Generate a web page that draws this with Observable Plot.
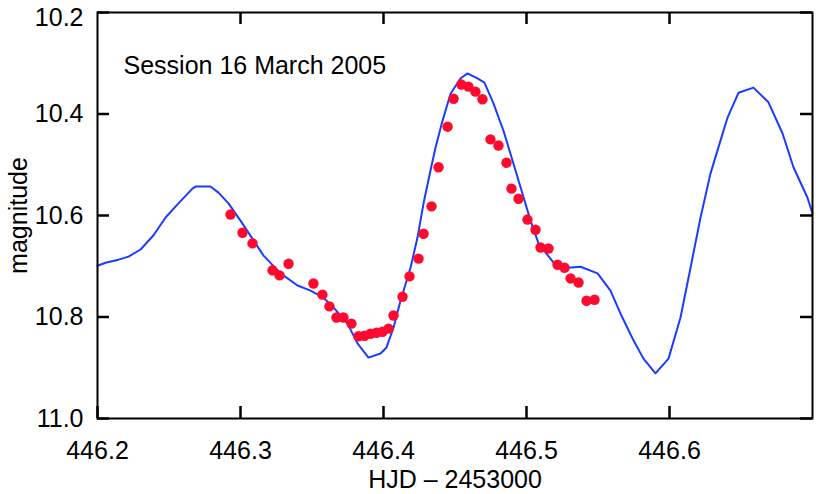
<!DOCTYPE html>
<html>
<head>
<meta charset="utf-8">
<script src="https://cdn.jsdelivr.net/npm/d3@7"></script>
<script src="https://cdn.jsdelivr.net/npm/@observablehq/plot@0.6"></script>
<style>
  html, body { margin: 0; padding: 0; background: #fff; }
</style>
</head>
<body>
<div id="chart"></div>
<script>
// Model light curve (blue line)
const modelX = [446.2000, 446.2056, 446.2147, 446.2217, 446.2301, 446.2392, 446.2476, 446.2566, 446.2664, 446.2685,
  446.2790, 446.2846, 446.2916, 446.3014, 446.3161, 446.3280, 446.3399, 446.3490, 446.3580, 446.3650,
  446.3748, 446.3818, 446.3895, 446.3979, 446.4021, 446.4070, 446.4119, 446.4189, 446.4238, 446.4280,
  446.4329, 446.4364, 446.4413, 446.4469, 446.4538, 446.4587, 446.4657, 446.4706, 446.4769, 446.4839,
  446.4909, 446.4972, 446.5028, 446.5084, 446.5189, 446.5287, 446.5378, 446.5497, 446.5587, 446.5657,
  446.5748, 446.5818, 446.5902, 446.5993, 446.6077, 446.6147, 446.6217, 446.6287, 446.6357, 446.6406,
  446.6483, 446.6587, 446.6692, 446.6790, 446.6867, 446.6965, 446.7000];
const modelY = [10.699, 10.693, 10.687, 10.681, 10.667, 10.639, 10.604, 10.576, 10.547, 10.543,
  10.543, 10.555, 10.576, 10.616, 10.679, 10.714, 10.738, 10.748, 10.762, 10.781,
  10.813, 10.852, 10.880, 10.872, 10.860, 10.821, 10.768, 10.703, 10.643, 10.576,
  10.511, 10.466, 10.413, 10.360, 10.330, 10.320, 10.330, 10.338, 10.379, 10.433,
  10.498, 10.557, 10.610, 10.655, 10.693, 10.703, 10.701, 10.714, 10.748, 10.793,
  10.846, 10.882, 10.911, 10.882, 10.801, 10.703, 10.604, 10.517, 10.452, 10.407,
  10.358, 10.348, 10.377, 10.438, 10.505, 10.565, 10.596];

// Observed magnitudes (red dots)
const obsX = [446.2930, 446.3014, 446.3084, 446.3224, 446.3273, 446.3336, 446.3510, 446.3573, 446.3622, 446.3671,
  446.3720, 446.3776, 446.3825, 446.3867, 446.3909, 446.3951, 446.3993, 446.4035, 446.4070, 446.4133,
  446.4182, 446.4245, 446.4280, 446.4336, 446.4385, 446.4448, 446.4490, 446.4545, 446.4594, 446.4643,
  446.4692, 446.4748, 446.4804, 446.4860, 446.4895, 446.4944, 446.5007, 446.5063, 446.5098, 446.5154,
  446.5217, 446.5266, 446.5308, 446.5364, 446.5420, 446.5476];
const obsY = [10.598, 10.634, 10.655, 10.708, 10.718, 10.695, 10.734, 10.756, 10.779, 10.801,
  10.801, 10.813, 10.838, 10.837, 10.833, 10.831, 10.829, 10.823, 10.797, 10.760,
  10.720, 10.685, 10.636, 10.582, 10.505, 10.425, 10.370, 10.342, 10.346, 10.356,
  10.371, 10.450, 10.462, 10.496, 10.547, 10.567, 10.608, 10.628, 10.663, 10.665,
  10.697, 10.703, 10.724, 10.732, 10.768, 10.766];

// Axis ticks and labels
const xTicks = [446.2, 446.3, 446.4, 446.5, 446.6];
const yTicks = [10.2, 10.4, 10.6, 10.8, 11.0];
const xLabel = "HJD \u2013 2453000";
const yLabel = "magnitude";
const sessionLabel = "Session 16 March 2005";

const model = modelX.map((x, i) => ({x, y: modelY[i]}));
const obs = obsX.map((x, i) => ({x, y: obsY[i]}));

const W = 816, H = 494, mL = 97, mR = 4, mT = 12, mB = 76, tick = 12;
const frameW = W - mL - mR, frameH = H - mT - mB;
const tickStyle = {stroke: "#000", strokeWidth: 2.5};
const fmt = d3.format(".1f");

const chart = Plot.plot({
  width: W,
  height: H,
  marginLeft: mL,
  marginRight: mR,
  marginTop: mT,
  marginBottom: mB,
  style: {fontFamily: "'Liberation Sans', Arial, sans-serif", fontSize: "25px", background: "#fff", color: "#000"},
  x: {domain: [446.2, 446.7]},
  y: {domain: [10.2, 11.0], reverse: true},
  marks: [
    Plot.line(model, {x: "x", y: "y", stroke: "#1a3cff", strokeWidth: 2}),
    Plot.dot(obs, {x: "x", y: "y", r: 5.2, fill: "#ff0a2e", stroke: "none"}),
    Plot.frame({stroke: "#000", strokeWidth: 2}),
    // inward ticks on all four sides (short rules inset from the frame)
    Plot.ruleX(xTicks, {x: d => d, insetTop: frameH - tick, ...tickStyle}),
    Plot.ruleX(xTicks.slice(1), {x: d => d, insetBottom: frameH - tick, ...tickStyle}),
    Plot.ruleY(yTicks, {y: d => d, insetRight: frameW - tick, ...tickStyle}),
    Plot.ruleY(yTicks, {y: d => d, insetLeft: frameW - tick, ...tickStyle}),
    // tick labels and axis titles
    Plot.axisX(xTicks, {anchor: "bottom", tickSize: 0, tickPadding: 23,
      tickFormat: fmt, label: xLabel, labelAnchor: "center", labelOffset: 69, labelArrow: "none", fontSize: 25}),
    Plot.axisY(yTicks.slice(1), {anchor: "left", tickSize: 0, tickPadding: 14,
      tickFormat: fmt, label: yLabel, labelAnchor: "center", labelOffset: 88, labelArrow: "none", fontSize: 25}),
    Plot.axisY(yTicks.slice(0, 1), {anchor: "left", tickSize: 0, tickPadding: 14, dy: 5,
      tickFormat: fmt, label: null, fontSize: 25}),
    Plot.text([sessionLabel], {frameAnchor: "top-left", dx: 26, dy: 53, textAnchor: "start", lineAnchor: "middle", fontSize: 25, fill: "#000"})
  ]
});
document.getElementById("chart").appendChild(chart);
</script>
</body>
</html>
